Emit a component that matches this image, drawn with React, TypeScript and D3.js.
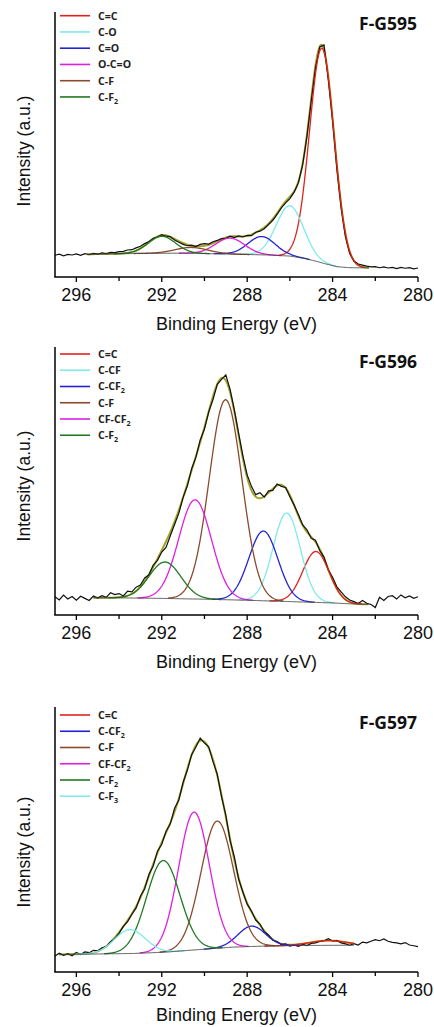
import React from "react";
import * as d3 from "d3";

// ---------- shared axis data ----------
const ENERGY_DOMAIN = [297, 280];
const MAJOR_TICKS = [296, 292, 288, 284, 280];
const MINOR_TICKS = [294, 290, 286, 282];
const RAW_START = 297;
const RAW_STEP = 0.2;

// ---------- F-G595 ----------
const P1_NAME = "F-G595";
const P1_LABELS = ["C=C", "C-O", "C=O", "O-C=O", "C-F", "C-F_2"];
const P1_CENTER = [284.5, 286.0, 287.32, 288.8, 290.6, 292.0];
const P1_HEIGHT = [81, 19, 6.9, 6.0, 2.2, 6.4];
const P1_FWHM = [1.35, 1.5, 1.5, 1.6, 1.8, 1.5];
const P1_BG = [[297, 8.4], [293, 8.9], [291, 9.0], [289, 8.7], [287, 8.3], [286, 7.9], [285.3, 7.0], [284.8, 6.0], [284.3, 4.9], [283.8, 3.9], [283.2, 3.5], [280, 3.3]];
const P1_FIT = [295.5, 282.3];
const P1_RAW = [
  8.2, 8.6, 8.0, 8.5, 8.3, 8.7, 8.2, 8.8, 8.4, 8.9,
  8.6, 9.1, 8.8, 9.3, 9.2, 9.6, 9.7, 10.2, 10.3, 11.0,
  11.6, 12.6, 13.4, 14.6, 15.1, 16.0, 15.4, 15.2, 14.0, 13.1,
  12.3, 11.8, 11.9, 11.5, 12.3, 12.6, 12.4, 13.3, 13.8, 14.5,
  14.6, 15.4, 14.9, 15.5, 15.1, 15.7, 15.6, 16.9, 17.3, 18.2,
  19.8, 21.4, 23.6, 26.1, 28.0, 29.6, 32.0, 35.6, 42.4, 53.0,
  66.4, 79.0, 86.8, 87.6, 74.4, 58.9, 40.8, 26.0, 15.2, 8.9,
  6.0, 4.9, 4.5, 4.1, 3.8, 3.9, 3.5, 3.8, 3.4, 3.6,
  3.2, 3.6, 3.3, 3.5, 3.1, 3.4,
];

// ---------- F-G596 ----------
const P2_NAME = "F-G596";
const P2_LABELS = ["C=C", "C-CF", "C-CF_2", "C-F", "CF-CF_2", "C-F_2"];
const P2_CENTER = [284.78, 286.15, 287.24, 289.01, 290.44, 291.85];
const P2_HEIGHT = [19, 33, 26, 74.6, 37, 13.6];
const P2_FWHM = [1.45, 1.5, 1.6, 1.8, 1.8, 1.75];
const P2_BG = [[297, 6.5], [294, 6.4], [292, 6.2], [290, 5.9], [288, 5.5], [286, 5.0], [284, 4.5], [283, 4.1], [282, 3.9], [280, 3.9]];
const P2_FIT = [295.2, 282.3];
const P2_RAW = [
  6.8, 5.6, 7.4, 6.0, 6.9, 5.5, 7.0, 6.2, 5.4, 7.1,
  6.3, 7.2, 6.6, 8.3, 7.6, 8.0, 7.1, 8.9, 8.6, 10.4,
  11.2, 13.8, 15.0, 18.6, 20.4, 23.5, 25.2, 29.6, 33.8, 38.0,
  43.9, 48.2, 54.6, 58.9, 65.3, 69.4, 75.8, 80.4, 86.1, 87.9,
  89.6, 84.2, 76.5, 67.8, 59.4, 52.3, 48.0, 44.9, 45.6, 44.0,
  46.3, 46.5, 48.9, 48.0, 47.6, 44.1, 41.0, 37.5, 33.6, 31.8,
  28.6, 27.9, 24.0, 21.6, 16.8, 14.1, 10.5, 8.6, 6.8, 5.6,
  5.0, 4.3, 5.4, 4.4, 3.9, 2.8, 6.6, 5.4, 6.9, 7.2,
  6.0, 7.5, 6.4, 7.1, 6.2, 6.8,
];

// ---------- F-G597 ----------
const P3_NAME = "F-G597";
const P3_LABELS = ["C=C", "C-CF_2", "C-F", "CF-CF_2", "C-F_2", "C-F_3"];
const P3_CENTER = [284.2, 287.79, 289.4, 290.49, 291.93, 293.49];
const P3_HEIGHT = [1.8, 7.7, 48, 52, 34.6, 9];
const P3_FWHM = [2.0, 1.5, 1.8, 1.7, 1.85, 1.7];
const P3_BG = [[297, 6.6], [295, 6.8], [293.3, 7.0], [291.8, 7.5], [290.2, 8.5], [288.65, 9.4], [287.1, 9.8], [285.5, 10.0], [283.2, 10.1], [280, 10.1]];
const P3_FIT = [296.8, 283.0];
const P3_RAW = [
  6.0, 7.1, 6.3, 6.9, 6.1, 7.4, 6.6, 7.6, 7.3, 8.2,
  8.0, 9.1, 9.6, 11.4, 12.6, 14.6, 17.2, 19.0, 21.8, 24.2,
  28.6, 31.4, 36.9, 40.0, 45.6, 48.2, 53.1, 55.9, 61.8, 64.9,
  71.6, 76.2, 82.0, 84.9, 88.3, 86.4, 85.0, 79.4, 74.6, 66.1,
  59.2, 49.6, 43.4, 35.0, 30.2, 25.6, 23.0, 19.6, 18.1, 15.2,
  14.0, 12.0, 11.5, 10.3, 10.6, 9.8, 10.2, 9.7, 10.4, 10.0,
  10.8, 11.0, 11.5, 11.8, 12.6, 11.7, 11.9, 11.0, 10.6, 10.1,
  10.7, 10.2, 11.3, 11.0, 11.6, 12.2, 11.8, 12.5, 11.6, 11.2,
  11.0, 10.6, 11.1, 10.2, 9.9, 9.6,
];

// ---------- styles ----------
const COLORS: Record<string, string> = {
  "C=C": "#e3211c",
  "C-O": "#7eeaea",
  "C=O": "#2323d6",
  "O-C=O": "#e01fe0",
  "C-F": "#8a4a2c",
  "C-F_2": "#1f7a22",
  "C-CF": "#7eeaea",
  "C-CF_2": "#2323d6",
  "CF-CF_2": "#e01fe0",
  "C-F_3": "#7eeaea",
};
const ENVELOPE_COLOR = "#a3a326";
const AXIS_FONT = "'Liberation Sans', Arial, sans-serif";
const LABEL_FONT = "'Open Sans', 'Noto Sans', sans-serif";

const x = d3.scaleLinear().domain(ENERGY_DOMAIN).range([55, 418]);

function gauss(e: number, c: number, h: number, w: number) {
  return h * Math.exp((-4 * Math.LN2 * (e - c) * (e - c)) / (w * w));
}

function LegendLabel({ label, xPos, yPos }: { label: string; xPos: number; yPos: number }) {
  const [main, sub] = label.split("_");
  return (
    <text x={xPos} y={yPos} fontFamily={LABEL_FONT} fontWeight={700} fontSize={10.6} fill="#222">
      {main}
      {sub && (
        <tspan fontSize={7.2} dy={3}>
          {sub}
        </tspan>
      )}
    </text>
  );
}

type PanelProps = {
  name: string;
  labels: string[];
  centers: number[];
  heights: number[];
  fwhms: number[];
  bg: number[][];
  fit: number[];
  raw: number[];
  top: number;
  bottom: number;
  legendTop: number;
  nameBaseline: number;
  yTitleCenter: number;
  xTitleOffset: number;
};

function Panel(p: PanelProps) {
  const y = d3.scaleLinear().domain([0, 100]).range([p.bottom, p.top]);
  const bgScale = d3
    .scaleLinear()
    .domain(p.bg.map((d) => d[0]))
    .range(p.bg.map((d) => d[1]))
    .clamp(true);
  const line = d3
    .line<number[]>()
    .x((d) => x(d[0]))
    .y((d) => y(d[1]));

  const rawPts = p.raw.map((v, i) => [RAW_START - RAW_STEP * i, v]);
  const grid = d3.range(p.fit[0], p.fit[1] - 0.001, -0.04);
  const bgPts = grid.map((e) => [e, bgScale(e)]);
  const envPts = grid.map((e) => {
    let s = bgScale(e);
    p.centers.forEach((c, k) => (s += gauss(e, c, p.heights[k], p.fwhms[k])));
    return [e, s];
  });

  const comps = p.labels.map((lab, k) => {
    const c = p.centers[k];
    const w = p.fwhms[k];
    const lo = Math.max(p.fit[1], c - 1.5 * w);
    const hi = Math.min(p.fit[0], c + 1.5 * w);
    const pts = d3.range(hi, lo - 0.001, -0.03).map((e) => [e, bgScale(e) + gauss(e, c, p.heights[k], w)]);
    return { lab, d: line(pts) };
  });

  return (
    <g>
      {/* envelope */}
      <path d={line(envPts) || ""} fill="none" stroke={ENVELOPE_COLOR} strokeWidth={2} />
      {/* raw */}
      <path d={line(rawPts) || ""} fill="none" stroke="#111" strokeWidth={1.2} />
      {/* components */}
      {comps.map((c) => (
        <path key={c.lab} d={c.d || ""} fill="none" stroke={COLORS[c.lab]} strokeWidth={1.3} />
      ))}
      {/* background */}
      <path d={line(bgPts) || ""} fill="none" stroke="#444" strokeWidth={0.9} />

      {/* axes */}
      <line x1={55} x2={55} y1={p.top} y2={p.bottom} stroke="#000" strokeWidth={1.5} />
      <line x1={54.25} x2={418} y1={p.bottom} y2={p.bottom} stroke="#000" strokeWidth={1.5} />
      {MAJOR_TICKS.map((t) => (
        <g key={t}>
          <line x1={x(t)} x2={x(t)} y1={p.bottom} y2={p.bottom + 5} stroke="#000" strokeWidth={1.3} />
          <text x={x(t)} y={p.bottom + 24} textAnchor="middle" fontFamily={AXIS_FONT} fontSize={18} fill="#111">
            {t}
          </text>
        </g>
      ))}
      {MINOR_TICKS.map((t) => (
        <line key={t} x1={x(t)} x2={x(t)} y1={p.bottom} y2={p.bottom + 4} stroke="#000" strokeWidth={1.3} />
      ))}
      <text x={236.5} y={p.bottom + p.xTitleOffset} textAnchor="middle" fontFamily={AXIS_FONT} fontSize={18} fill="#111">
        Binding Energy (eV)
      </text>
      <text
        transform={`translate(30,${p.yTitleCenter}) rotate(-90)`}
        textAnchor="middle"
        fontFamily={AXIS_FONT}
        fontSize={17.5}
        fill="#111"
      >
        Intensity (a.u.)
      </text>

      {/* sample name */}
      <text x={417} y={p.nameBaseline} textAnchor="end" fontFamily={LABEL_FONT} fontWeight={700} fontSize={17.5} fill="#111">
        {p.name}
      </text>

      {/* legend */}
      {p.labels.map((lab, k) => {
        const ly = p.legendTop + k * 16.25;
        return (
          <g key={lab}>
            <line x1={60} x2={90} y1={ly} y2={ly} stroke={COLORS[lab]} strokeWidth={1.6} />
            <LegendLabel label={lab} xPos={98} yPos={ly + 3.8} />
          </g>
        );
      })}
    </g>
  );
}

export default function App() {
  return (
    <svg
      width={434}
      height={1027}
      style={{ position: "absolute", left: 0, top: 0, background: "#fff" }}
    >
      <Panel
        name={P1_NAME}
        labels={P1_LABELS}
        centers={P1_CENTER}
        heights={P1_HEIGHT}
        fwhms={P1_FWHM}
        bg={P1_BG}
        fit={P1_FIT}
        raw={P1_RAW}
        top={12}
        bottom={277}
        legendTop={15.7}
        nameBaseline={29.5}
        yTitleCenter={151}
        xTitleOffset={53}
      />
      <Panel
        name={P2_NAME}
        labels={P2_LABELS}
        centers={P2_CENTER}
        heights={P2_HEIGHT}
        fwhms={P2_FWHM}
        bg={P2_BG}
        fit={P2_FIT}
        raw={P2_RAW}
        top={347}
        bottom={615}
        legendTop={354}
        nameBaseline={367.5}
        yTitleCenter={486}
        xTitleOffset={53}
      />
      <Panel
        name={P3_NAME}
        labels={P3_LABELS}
        centers={P3_CENTER}
        heights={P3_HEIGHT}
        fwhms={P3_FWHM}
        bg={P3_BG}
        fit={P3_FIT}
        raw={P3_RAW}
        top={707}
        bottom={972}
        legendTop={715}
        nameBaseline={729}
        yTitleCenter={852}
        xTitleOffset={49}
      />
    </svg>
  );
}
